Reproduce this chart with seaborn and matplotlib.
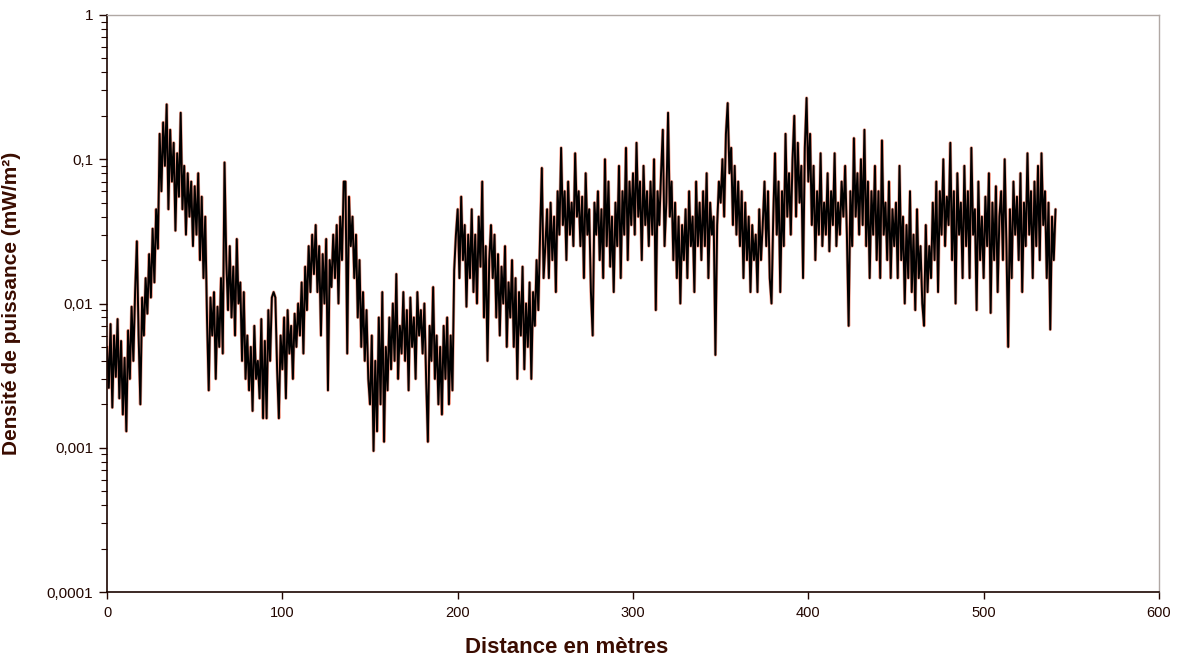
import numpy as np
import pandas as pd
import matplotlib
matplotlib.use("Agg")
import matplotlib.pyplot as plt
import matplotlib.ticker as mticker
import seaborn as sns

# power density, one value per metre (0..541 m)
density = [
    # 0-49 m
    0.0050, 0.0026, 0.0072, 0.0019, 0.0060, 0.0031, 0.0078, 0.0022, 0.0055, 0.0017,
    0.0042, 0.0013, 0.0065, 0.0030, 0.0095, 0.0040, 0.0120, 0.0270, 0.0060, 0.0020,
    0.0110, 0.0060, 0.0150, 0.0085, 0.0220, 0.0110, 0.0330, 0.0140, 0.0450, 0.0240,
    0.1500, 0.0600, 0.1800, 0.0900, 0.2400, 0.0450, 0.1600, 0.0700, 0.1300, 0.0320,
    0.1100, 0.0550, 0.2100, 0.0450, 0.0900, 0.0300, 0.0800, 0.0400, 0.0700, 0.0250,
    # 50-99 m
    0.0650, 0.0300, 0.0800, 0.0200, 0.0550, 0.0150, 0.0400, 0.0080, 0.0025, 0.0110,
    0.0060, 0.0120, 0.0030, 0.0095, 0.0050, 0.0150, 0.0045, 0.0950, 0.0200, 0.0090,
    0.0250, 0.0080, 0.0180, 0.0060, 0.0280, 0.0100, 0.0140, 0.0040, 0.0120, 0.0030,
    0.0060, 0.0025, 0.0050, 0.0018, 0.0070, 0.0030, 0.0040, 0.0022, 0.0078, 0.0016,
    0.0055, 0.0016, 0.0090, 0.0040, 0.0110, 0.0120, 0.0110, 0.0035, 0.0016, 0.0060,
    # 100-149 m
    0.0035, 0.0080, 0.0022, 0.0090, 0.0045, 0.0070, 0.0030, 0.0085, 0.0050, 0.0100,
    0.0060, 0.0140, 0.0045, 0.0180, 0.0090, 0.0250, 0.0120, 0.0300, 0.0160, 0.0350,
    0.0120, 0.0250, 0.0060, 0.0220, 0.0100, 0.0280, 0.0025, 0.0200, 0.0130, 0.0300,
    0.0150, 0.0350, 0.0100, 0.0400, 0.0200, 0.0700, 0.0700, 0.0045, 0.0550, 0.0250,
    0.0400, 0.0150, 0.0300, 0.0080, 0.0200, 0.0050, 0.0120, 0.0040, 0.0090, 0.0030,
    # 150-199 m
    0.0020, 0.0060, 0.00095, 0.0040, 0.0013, 0.0080, 0.0020, 0.0120, 0.0011, 0.0050,
    0.0025, 0.0080, 0.0035, 0.0100, 0.0040, 0.0160, 0.0030, 0.0070, 0.0045, 0.0120,
    0.0040, 0.0090, 0.0025, 0.0110, 0.0050, 0.0080, 0.0030, 0.0120, 0.0060, 0.0090,
    0.0045, 0.0100, 0.0030, 0.0011, 0.0070, 0.0040, 0.0130, 0.0030, 0.0060, 0.0020,
    0.0050, 0.0017, 0.0070, 0.0030, 0.0080, 0.0020, 0.0060, 0.0025, 0.0170, 0.0300,
    # 200-249 m
    0.0450, 0.0150, 0.0550, 0.0200, 0.0350, 0.0095, 0.0300, 0.0150, 0.0450, 0.0120,
    0.0300, 0.0100, 0.0400, 0.0180, 0.0700, 0.0080, 0.0250, 0.0040, 0.0200, 0.0350,
    0.0150, 0.0300, 0.0080, 0.0220, 0.0060, 0.0180, 0.0100, 0.0250, 0.0050, 0.0140,
    0.0080, 0.0200, 0.0050, 0.0150, 0.0030, 0.0120, 0.0060, 0.0180, 0.0035, 0.0100,
    0.0050, 0.0140, 0.0030, 0.0120, 0.0070, 0.0200, 0.0090, 0.0300, 0.0870, 0.0150,
    # 250-299 m
    0.0250, 0.0450, 0.0150, 0.0500, 0.0200, 0.0400, 0.0120, 0.0600, 0.0300, 0.1200,
    0.0350, 0.0600, 0.0200, 0.0700, 0.0300, 0.0500, 0.0250, 0.1100, 0.0400, 0.0600,
    0.0250, 0.0550, 0.0150, 0.0800, 0.0300, 0.0450, 0.0120, 0.0060, 0.0500, 0.0300,
    0.0600, 0.0200, 0.0450, 0.0150, 0.1000, 0.0250, 0.0700, 0.0180, 0.0400, 0.0120,
    0.0500, 0.0250, 0.0900, 0.0150, 0.0600, 0.0300, 0.1200, 0.0200, 0.0700, 0.0350,
    # 300-349 m
    0.0800, 0.0300, 0.1300, 0.0400, 0.0700, 0.0200, 0.0900, 0.0350, 0.0600, 0.0250,
    0.0700, 0.0300, 0.1000, 0.0090, 0.0600, 0.0350, 0.0800, 0.1600, 0.0250, 0.0500,
    0.2100, 0.0400, 0.0700, 0.0200, 0.0500, 0.0150, 0.0400, 0.0100, 0.0350, 0.0200,
    0.0450, 0.0150, 0.0600, 0.0250, 0.0400, 0.0120, 0.0700, 0.0250, 0.0500, 0.0200,
    0.0600, 0.0250, 0.0800, 0.0150, 0.0500, 0.0300, 0.0400, 0.0044, 0.0350, 0.0700,
    # 350-399 m
    0.0500, 0.1000, 0.0400, 0.1500, 0.2450, 0.0800, 0.1200, 0.0350, 0.0900, 0.0300,
    0.0700, 0.0250, 0.0600, 0.0150, 0.0500, 0.0200, 0.0400, 0.0120, 0.0350, 0.0200,
    0.0300, 0.0120, 0.0450, 0.0200, 0.0350, 0.0700, 0.0250, 0.0600, 0.0150, 0.0100,
    0.0400, 0.1100, 0.0300, 0.0700, 0.0120, 0.0600, 0.0250, 0.1500, 0.0400, 0.0800,
    0.0300, 0.1000, 0.2000, 0.0400, 0.1300, 0.0500, 0.0900, 0.0150, 0.1200, 0.2660,
    # 400-449 m
    0.0700, 0.1500, 0.0350, 0.0900, 0.0200, 0.0600, 0.0300, 0.1100, 0.0250, 0.0500,
    0.0300, 0.0800, 0.0230, 0.0600, 0.0350, 0.1100, 0.0250, 0.0500, 0.0300, 0.0700,
    0.0400, 0.0900, 0.0300, 0.0070, 0.0600, 0.0250, 0.1400, 0.0400, 0.0800, 0.0300,
    0.1000, 0.0350, 0.1600, 0.0250, 0.0700, 0.0150, 0.0600, 0.0300, 0.0900, 0.0200,
    0.0600, 0.0150, 0.1350, 0.0300, 0.0500, 0.0200, 0.0700, 0.0150, 0.0450, 0.0250,
    # 450-499 m
    0.0500, 0.0150, 0.0900, 0.0200, 0.0400, 0.0100, 0.0350, 0.0150, 0.0600, 0.0120,
    0.0300, 0.0090, 0.0450, 0.0150, 0.0250, 0.0100, 0.0070, 0.0350, 0.0120, 0.0250,
    0.0150, 0.0500, 0.0200, 0.0700, 0.0120, 0.0600, 0.0300, 0.1000, 0.0250, 0.0550,
    0.0350, 0.1300, 0.0200, 0.0600, 0.0100, 0.0800, 0.0300, 0.0500, 0.0150, 0.0900,
    0.0250, 0.0600, 0.0150, 0.1200, 0.0300, 0.0450, 0.0090, 0.0700, 0.0200, 0.0400,
    # 500-541 m
    0.0150, 0.0550, 0.0250, 0.0800, 0.0086, 0.0500, 0.0200, 0.0650, 0.0120, 0.0400,
    0.0600, 0.0200, 0.1000, 0.0250, 0.0050, 0.0450, 0.0150, 0.0700, 0.0300, 0.0550,
    0.0200, 0.0800, 0.0120, 0.0500, 0.0250, 0.1100, 0.0300, 0.0600, 0.0150, 0.0700,
    0.0250, 0.0900, 0.0200, 0.1100, 0.0350, 0.0600, 0.0150, 0.0500, 0.0066, 0.0400,
    0.0200, 0.0450,
]
distance = np.arange(len(density))  # metres

y_ticks = [0.0001, 0.001, 0.01, 0.1, 1]
y_labels = ["0,0001", "0,001", "0,01", "0,1", "1"]
x_ticks = [0, 100, 200, 300, 400, 500, 600]

df = pd.DataFrame({"distance": distance, "density": density})

sns.set_theme(style="ticks")
plt.rcParams["font.family"] = ["Liberation Sans", "DejaVu Sans"]

dark = "#220600"

fig = plt.figure(figsize=(11.79, 6.57), dpi=100)
ax = fig.add_axes([0.0908, 0.0989, 0.8922, 0.8783])

# faint reddish halo under the black trace, like the original
sns.lineplot(data=df, x="distance", y="density", ax=ax, estimator=None,
             color="#f2a08e", linewidth=2.3)
sns.lineplot(data=df, x="distance", y="density", ax=ax, estimator=None,
             color="black", linewidth=1.4)

ax.set_yscale("log")
ax.set_ylim(0.0001, 1)
ax.set_xlim(0, 600)
ax.set_yticks(y_ticks)
ax.set_yticklabels(y_labels)
ax.yaxis.set_minor_locator(mticker.LogLocator(base=10, subs=np.arange(2, 10)))
ax.yaxis.set_minor_formatter(mticker.NullFormatter())
ax.set_xticks(x_ticks)
ax.set_xticklabels([str(t) for t in x_ticks])

ax.tick_params(axis="y", which="major", direction="out", length=6, width=1,
               labelsize=11, colors=dark, pad=4)
ax.tick_params(axis="y", which="minor", direction="out", length=4, width=0.8,
               colors=dark, left=True)
ax.tick_params(axis="x", which="major", direction="out", length=5, width=1,
               labelsize=10.5, colors=dark, pad=5)

for side in ["left", "bottom"]:
    ax.spines[side].set_color("#1a0500")
    ax.spines[side].set_linewidth(1.2)
for side in ["top", "right"]:
    ax.spines[side].set_visible(True)
    ax.spines[side].set_color("#b0a8a4")
    ax.spines[side].set_linewidth(1.0)

ax.set_xlabel("Distance en mètres", fontsize=16, fontweight="bold", color="#3a0c00")
ax.set_ylabel("Densité de puissance (mW/m²)", fontsize=15, fontweight="bold", color="#3a0c00")
ax.xaxis.set_label_coords(0.437, -0.078)
ax.yaxis.set_label_coords(-0.082, 0.5)
ax.grid(False)

fig.savefig("out.png", dpi=100, facecolor="white")
